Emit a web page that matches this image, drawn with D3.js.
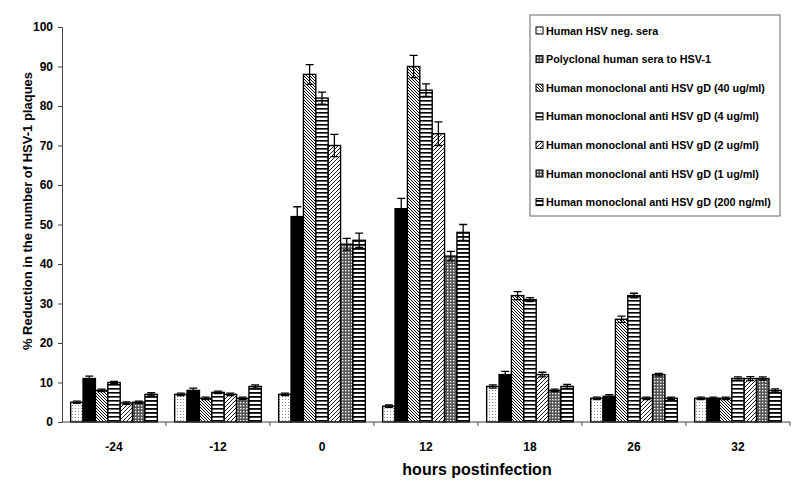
<!DOCTYPE html>
<html><head><meta charset="utf-8">
<script src="https://cdn.jsdelivr.net/npm/d3@7"></script>
<style>body{margin:0;background:#fff}svg{display:block}text{font-family:"Liberation Sans",Arial,sans-serif;font-weight:bold;fill:#000}</style>
</head><body><svg id="c" width="800" height="483"></svg>
<script>
const categories = ["-24","-12","0","12","18","26","32"];
const seriesNames = [
  "Human HSV neg. sera",
  "Polyclonal human sera to HSV-1",
  "Human monoclonal anti HSV gD (40 ug/ml)",
  "Human monoclonal anti HSV gD (4 ug/ml)",
  "Human monoclonal anti HSV gD (2 ug/ml)",
  "Human monoclonal anti HSV gD (1 ug/ml)",
  "Human monoclonal anti HSV gD (200 ng/ml)"
];
const negSera   = [5, 7, 7, 4, 9, 6, 6];
const polySera  = [11, 8, 52, 54, 12, 6.5, 6];
const mab40ug   = [8, 6, 88, 90, 32, 26, 6];
const mab4ug    = [10, 7.5, 82, 84, 31, 32, 11];
const mab2ug    = [4.8, 7, 70, 73, 12, 6, 11];
const mab1ug    = [5, 6, 45, 42, 8, 12, 11];
const mab200ng  = [7, 9, 46, 48, 9, 6, 8];
const errNeg    = [0.3, 0.3, 0.3, 0.3, 0.4, 0.3, 0.3];
const errPoly   = [0.6, 0.6, 2.5, 2.6, 0.8, 0.4, 0.3];
const err40     = [0.3, 0.3, 2.5, 2.8, 1.0, 0.8, 0.3];
const err4      = [0.3, 0.3, 1.5, 1.6, 0.5, 0.6, 0.4];
const err2      = [0.3, 0.3, 2.8, 3.0, 0.6, 0.3, 0.5];
const err1      = [0.3, 0.3, 1.5, 1.2, 0.3, 0.3, 0.4];
const err200    = [0.4, 0.4, 1.8, 2.0, 0.5, 0.3, 0.4];
const yTicks = [0,10,20,30,40,50,60,70,80,90,100];

const values = [negSera, polySera, mab40ug, mab4ug, mab2ug, mab1ug, mab200ng];
const errs = [errNeg, errPoly, err40, err4, err2, err1, err200];

const svg = d3.select("#c");
const defs = svg.append("defs");
function pat(id, w, h, draw){
  const p = defs.append("pattern").attr("id", id).attr("patternUnits","userSpaceOnUse").attr("width", w).attr("height", h);
  p.append("rect").attr("width", w).attr("height", h).attr("fill", "#fff");
  draw(p);
}
pat("p0", 3, 3, p => { p.append("rect").attr("x",0).attr("y",0).attr("width",1).attr("height",1).attr("fill","#888"); });
pat("p2", 3, 3, p => { p.append("path").attr("d","M-1,-1 L4,4 M-1,2 L1,4 M2,-1 L4,1").attr("stroke","#000").attr("stroke-width",1); });
pat("p3", 4, 4, p => { p.append("rect").attr("x",0).attr("y",0).attr("width",4).attr("height",1.6).attr("fill","#000"); });
pat("p4", 4, 4, p => { p.append("path").attr("d","M-1,5 L5,-1 M-1,1 L1,-1 M3,5 L5,3").attr("stroke","#000").attr("stroke-width",0.9); });
pat("p5", 3, 3, p => { p.append("rect").attr("width",3).attr("height",3).attr("fill","#555"); p.append("rect").attr("x",0).attr("y",0).attr("width",1.4).attr("height",1.4).attr("fill","#fff"); });
pat("p6", 4, 4, p => { p.append("rect").attr("x",0).attr("y",0).attr("width",4).attr("height",1.8).attr("fill","#000"); });
const fills = ["url(#p0)", "#000", "url(#p2)", "url(#p3)", "url(#p4)", "url(#p5)", "url(#p6)"];

const mLeft = 62, mRight = 790, mTop = 27, mBottom = 422;
const x0 = d3.scaleBand().domain(categories).range([mLeft, mRight]).paddingInner(0).paddingOuter(0);
const x1 = d3.scaleBand().domain(d3.range(7)).range([0, x0.bandwidth()]).paddingOuter(0.7).paddingInner(0);
const y = d3.scaleLinear().domain([0, 100]).range([mBottom, mTop]);

const ya = svg.append("g").attr("transform", `translate(${mLeft},0)`)
  .call(d3.axisLeft(y).tickValues(yTicks).tickSize(4).tickPadding(5));
ya.select(".domain").attr("stroke","#444").attr("stroke-width",1);
ya.selectAll(".tick line").attr("stroke","#444");
ya.selectAll("text").style("font-size","12px").attr("font-family",null);

const g = svg.append("g");
categories.forEach((c, ci) => {
  values.forEach((arr, si) => {
    const bx = x0(c) + x1(si);
    const bw = x1.bandwidth();
    const v = arr[ci];
    g.append("rect").attr("x", bx).attr("y", y(v)).attr("width", bw).attr("height", y(0) - y(v))
      .attr("fill", fills[si]).attr("stroke", "#000").attr("stroke-width", 1.4);
    const e = errs[si][ci];
    const cx = bx + bw/2;
    g.append("path").attr("d", `M${cx},${y(v-e)}V${y(v+e)}M${cx-4},${y(v+e)}H${cx+4}M${cx-4},${y(v-e)}H${cx+4}`)
      .attr("stroke","#000").attr("stroke-width",1.3).attr("fill","none");
  });
});

const xa = svg.append("g").attr("transform", `translate(0,${mBottom})`);
xa.append("line").attr("x1", mLeft).attr("x2", mRight).attr("stroke","#444");
categories.forEach((c) => {
  xa.append("line").attr("x1", x0(c)+x0.bandwidth()).attr("x2", x0(c)+x0.bandwidth()).attr("y1",0).attr("y2",4).attr("stroke","#444");
  xa.append("text").attr("x", x0(c)+x0.bandwidth()/2).attr("y", 29).attr("text-anchor","middle").style("font-size","12px").text(c);
});

svg.append("text").attr("x", 477).attr("y", 475).attr("text-anchor","middle").style("font-size","16px").text("hours postinfection");
svg.append("text").attr("transform","translate(32,211) rotate(-90)").attr("text-anchor","middle").style("font-size","13px").text("% Reduction in the number of HSV-1 plaques");

const lg = svg.append("g");
lg.append("rect").attr("x", 530).attr("y", 15).attr("width", 250).attr("height", 201).attr("fill","#fff").attr("stroke","#666").attr("stroke-width",1);
seriesNames.forEach((n, i) => {
  const ly = 30.5 + i * 28.6;
  lg.append("rect").attr("x", 536).attr("y", ly - 3.5).attr("width", 7).attr("height", 7).attr("fill", fills[i] === "#000" ? "url(#p5)" : fills[i]).attr("stroke","#000").attr("stroke-width",1);
  lg.append("text").attr("x", 546).attr("y", ly + 4).style("font-size","10.8px").text(n);
});
</script></body></html>
